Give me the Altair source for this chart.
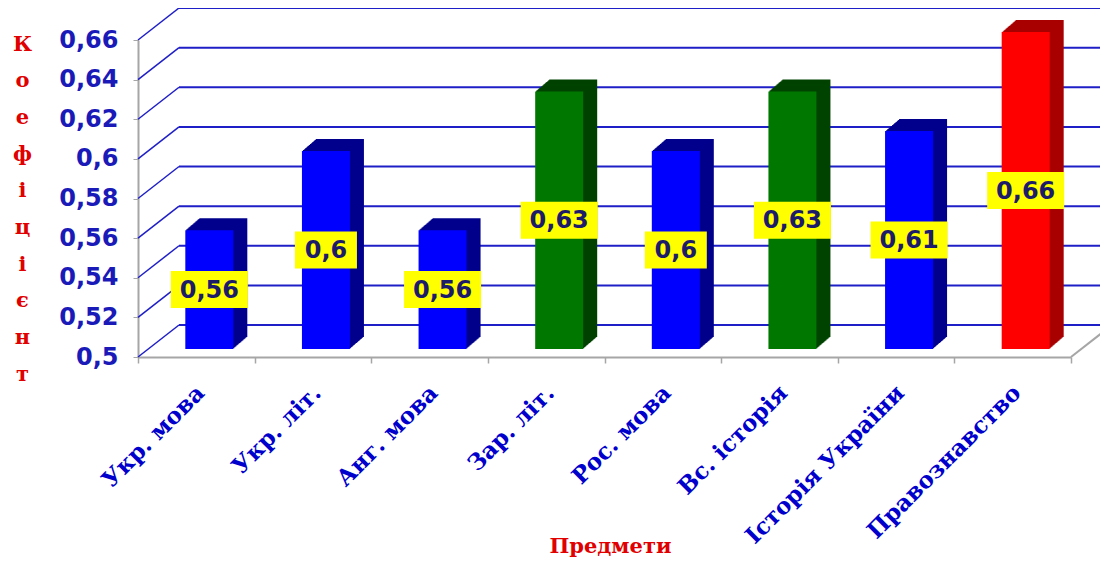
import altair as alt
import pandas as pd

# ---- data ----
subjects = ["Укр. мова", "Укр. літ.", "Анг. мова", "Зар. літ.", "Рос. мова",
            "Вс. історія", "Історія України", "Правознавство"]
values = [0.56, 0.60, 0.56, 0.63, 0.60, 0.63, 0.61, 0.66]
front_colors = ["#0000ff", "#0000ff", "#0000ff", "#007800", "#0000ff", "#007800", "#0000ff", "#ff0000"]
side_colors = ["#00008c", "#00008c", "#00008c", "#004200", "#00008c", "#004200", "#00008c", "#a80000"]
tick_values = [0.5, 0.52, 0.54, 0.56, 0.58, 0.6, 0.62, 0.64, 0.66]
y_title_letters = ["К", "о", "е", "ф", "і", "ц", "і", "є", "н", "т"]
x_title = "Предмети"

# ---- styling ----
W, H = 933, 317
DX, DY = 41, -32          # depth of the back wall
BDX, BDY = 14, -12        # depth of each bar
FX, FY = 13, -8           # shift of bar front face from the front plane
BLUE = "#1f1fc8"
GREY = "#a6a6a6"
BAR_W = 48

df = pd.DataFrame({"subject": subjects, "value": values,
                   "front": front_colors, "side": side_colors})
grid_df = pd.DataFrame({"value": tick_values})

x_axis = alt.Axis(
    labelAngle=-45, labelAlign="right", labelBaseline="middle",
    labelFont="DejaVu Serif", labelFontWeight="bold", labelFontSize=23,
    labelColor="#0000cc", labelPadding=26, labelOffset=4, labelLimit=400,
    tickBand="extent", tickSize=6, tickColor=GREY, tickWidth=1.5,
    domainColor=GREY, domainWidth=2,
    title=x_title, titleFont="DejaVu Serif", titleFontWeight="bold",
    titleFontSize=21, titleColor="#e00000", titleX=472, titleY=195,
    titleAlign="center", titleBaseline="alphabetic",
)
y_axis = alt.Axis(
    values=tick_values,
    labelExpr="replace(format(datum.value, '.2~f'), '.', ',')",
    labelFont="DejaVu Sans", labelFontWeight="bold", labelFontSize=24,
    labelColor="#1a1ab8", labelPadding=15, labelBaseline="middle",
    tickSize=5, tickColor=GREY, domainColor=GREY, domainWidth=2, grid=False,
    title=y_title_letters, titleAngle=0, titleFont="DejaVu Serif",
    titleFontWeight="bold", titleFontSize=21, titleColor="#e00000",
    titleLineHeight=36.7, titleAlign="center", titleBaseline="alphabetic",
    titleX=-116, titleY=10,
)
x_scale = alt.Scale(domain=subjects, paddingInner=0, paddingOuter=0)
y_scale = alt.Scale(domain=[0.5, 0.66], nice=False, zero=False)


def X():
    return alt.X("subject:N", sort=subjects, scale=x_scale, axis=x_axis)


def Y(field="value"):
    return alt.Y(f"{field}:Q", scale=y_scale, axis=y_axis)


layers = []

# back wall grid lines
layers.append(
    alt.Chart(grid_df).mark_rule(color=BLUE, strokeWidth=2, yOffset=DY)
    .encode(x=alt.value(DX), x2=alt.value(W + 80), y=Y())
)
# left side-wall diagonals
layers.append(
    alt.Chart(grid_df).mark_rule(color=BLUE, strokeWidth=1.5, y2Offset=DY)
    .encode(x=alt.value(0), x2=alt.value(DX), y=Y(), y2=alt.Y2("value:Q"))
)
# right floor edge
layers.append(
    alt.Chart(pd.DataFrame({"value": [tick_values[0]]}))
    .mark_rule(color=GREY, strokeWidth=2, y2Offset=DY)
    .encode(x=alt.value(W), x2=alt.value(W + DX), y=Y(), y2=alt.Y2("value:Q"))
)

# bar extrusion (side + top faces)
for k in range(BDX, 0, -1):
    t = k / BDX
    layers.append(
        alt.Chart(df).mark_bar(width=BAR_W, xOffset=FX + k,
                               yOffset=FY + BDY * t, y2Offset=FY + BDY * t)
        .encode(x=X(), y=Y(), y2=alt.datum(0.5),
                color=alt.Color("side:N", scale=None))
    )
# front faces
layers.append(
    alt.Chart(df).mark_bar(width=BAR_W, xOffset=FX, yOffset=FY, y2Offset=FY)
    .encode(x=X(), y=Y(), y2=alt.datum(0.5),
            color=alt.Color("front:N", scale=None))
)

# value labels in yellow boxes
label_base = alt.Chart(df).transform_calculate(
    label="replace(format(datum.value, '.2~f'), '.', ',')",
    mid="(datum.value + 0.5) / 2",
)
for n, bw in [(3, 62), (4, 77)]:
    layers.append(
        label_base.transform_filter(f"length(datum.label) == {n}")
        .mark_bar(width=bw, color="#ffff00", xOffset=FX,
                  yOffset=FY - 18.5, y2Offset=FY + 18.5)
        .encode(x=X(), y=Y("mid"), y2=alt.Y2("mid:Q"))
    )
layers.append(
    label_base.mark_text(font="DejaVu Sans", fontWeight="bold", fontSize=24,
                         color="#1c1c6a", xOffset=FX, yOffset=FY + 1,
                         baseline="middle", align="center")
    .encode(x=X(), y=Y("mid"), text="label:N")
)

chart = alt.layer(*layers).properties(
    width=W, height=H,
    autosize=alt.AutoSizeParams(type="none"),
    padding={"left": 130, "top": 32, "right": 29, "bottom": 201},
    background="white",
).configure_view(stroke=None)

chart.save("out.html", embed_options={"renderer": "svg", "actions": False})
